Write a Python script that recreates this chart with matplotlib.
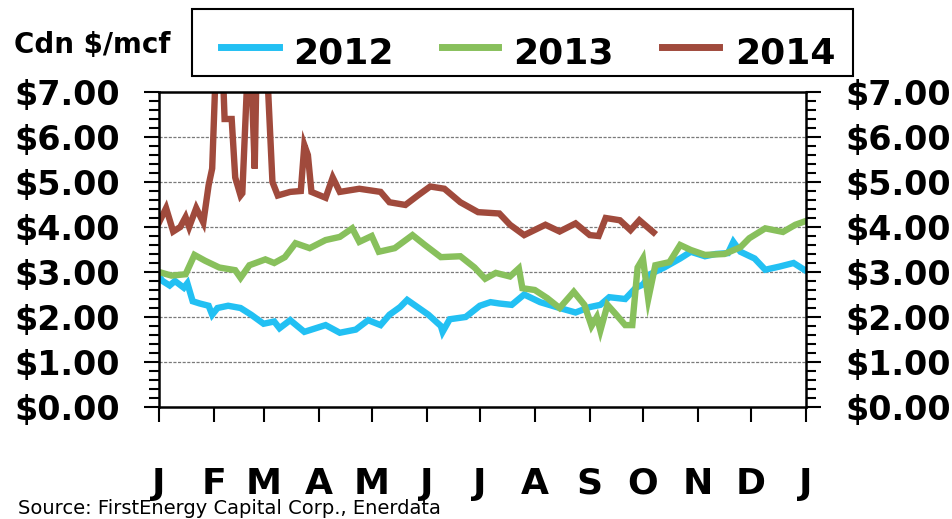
import matplotlib
matplotlib.use("Agg")
import matplotlib.pyplot as plt
from matplotlib.lines import Line2D
from matplotlib.patches import Rectangle

# ---------------- data (day of year, Cdn $/mcf) ----------------
days_2012 = [0, 2, 6, 9, 14, 16, 19, 23, 28, 30, 33, 39, 46, 52, 59, 65, 68, 74, 82, 94,
             102, 111, 118, 125, 130, 136, 140, 144, 152, 159, 160, 164, 173, 181, 187,
             192, 199, 206, 215, 226, 235, 243, 249, 254, 263, 269, 273, 277, 285, 294,
             300, 308, 314, 321, 324, 328, 336, 342, 350, 358, 364]
vals_2012 = [2.90, 2.80, 2.70, 2.80, 2.65, 2.75, 2.35, 2.30, 2.25, 2.05, 2.20, 2.25, 2.20,
             2.05, 1.85, 1.90, 1.75, 1.93, 1.67, 1.82, 1.65, 1.72, 1.93, 1.82, 2.05, 2.22,
             2.38, 2.27, 2.05, 1.80, 1.67, 1.95, 2.00, 2.25, 2.33, 2.30, 2.27, 2.50, 2.33,
             2.20, 2.10, 2.22, 2.27, 2.44, 2.40, 2.65, 2.72, 2.95, 3.10, 3.30, 3.45, 3.35,
             3.40, 3.42, 3.67, 3.45, 3.30, 3.05, 3.12, 3.20, 3.05]

days_2013 = [0, 7, 15, 20, 26, 34, 43, 46, 51, 60, 65, 71, 77, 85, 94, 102, 109, 113, 120,
             124, 133, 143, 150, 159, 170, 178, 184, 190, 198, 203, 205, 212, 219, 226, 234,
             240, 244, 247, 249, 253, 258, 263, 267, 270, 273, 276, 280, 288, 294, 300, 308,
             319, 328, 333, 342, 352, 359, 364]
vals_2013 = [3.00, 2.92, 2.95, 3.38, 3.25, 3.10, 3.04, 2.87, 3.15, 3.28, 3.20, 3.33, 3.64,
             3.53, 3.71, 3.78, 3.97, 3.67, 3.80, 3.45, 3.53, 3.82, 3.60, 3.33, 3.35, 3.10,
             2.85, 2.98, 2.90, 3.08, 2.64, 2.60, 2.42, 2.20, 2.56, 2.27, 1.80, 2.00, 1.70,
             2.27, 2.05, 1.82, 1.82, 3.10, 3.30, 2.40, 3.15, 3.22, 3.60, 3.49, 3.38, 3.40,
             3.55, 3.75, 3.97, 3.89, 4.05, 4.12]

days_2014 = [0, 4, 8, 12, 15, 17, 21, 25, 28, 30, 32, 36, 37, 41, 43, 46, 47, 50, 52, 54,
             55, 61, 64, 67, 74, 80, 82, 84, 86, 94, 98, 102, 113, 125, 130, 139, 146, 153,
             161, 170, 180, 192, 198, 206, 218, 226, 235, 243, 248, 252, 260, 266, 271, 279]
vals_2014 = [4.10, 4.42, 3.90, 4.00, 4.22, 4.00, 4.42, 4.10, 4.93, 5.30, 7.50, 7.50, 6.40,
             6.40, 5.10, 4.70, 4.75, 7.50, 7.50, 5.30, 7.50, 7.50, 5.00, 4.70, 4.78, 4.80,
             5.82, 5.60, 4.78, 4.65, 5.10, 4.78, 4.85, 4.78, 4.55, 4.49, 4.70, 4.90, 4.85,
             4.55, 4.33, 4.30, 4.05, 3.82, 4.05, 3.90, 4.08, 3.82, 3.80, 4.20, 4.15, 3.93,
             4.15, 3.88]

series_names = ["2012", "2013", "2014"]
month_ticks = [0, 31, 59, 90, 120, 151, 181, 212, 243, 273, 304, 334, 365]
month_labels = ["J", "F", "M", "A", "M", "J", "J", "A", "S", "O", "N", "D", "J"]
y_ticks = [0, 1, 2, 3, 4, 5, 6, 7]
y_labels = ["$%.2f" % v for v in y_ticks]

c2012 = "#22C0F3"
c2013 = "#88C05C"
c2014 = "#A04A3C"
colors = [c2012, c2013, c2014]

plt.rcParams["font.family"] = ["DejaVu Sans"]

fig = plt.figure(figsize=(9.52, 5.19), dpi=100)
W, H = 952, 519
ax = fig.add_axes([159 / W, 1 - 407 / H, (806 - 159) / W, (407 - 92) / H])

lw = 4.6
ax.plot(days_2012, vals_2012, color=c2012, lw=lw, solid_joinstyle="miter")
ax.plot(days_2013, vals_2013, color=c2013, lw=lw, solid_joinstyle="miter")
ax.plot(days_2014, vals_2014, color=c2014, lw=lw, solid_joinstyle="miter")

ax.set_xlim(0, 365)
ax.set_ylim(0, 7)

# grid
for y in y_ticks[1:-1]:
    ax.axhline(y, color="#7a7a7a", lw=0.9, ls=(0, (2.5, 1.2)), zorder=0)

for sp in ax.spines.values():
    sp.set_linewidth(1.8)
    sp.set_color("black")

ax.set_xticks(month_ticks)
ax.set_xticklabels(month_labels, fontsize=26, fontweight="bold")
ax.set_yticks(y_ticks)
ax.set_yticklabels(y_labels, fontsize=24, fontweight="bold")
ax.set_yticks([v / 5 for v in range(0, 36)], minor=True)

ax.tick_params(axis="x", which="major", direction="out", length=11, width=1.5, pad=32)
ax.tick_params(axis="y", which="major", direction="out", length=11, width=1.5, pad=17,
               left=True, right=True, labelleft=True, labelright=True)
ax.tick_params(axis="y", which="minor", direction="out", length=7, width=1.5,
               left=True, right=True)

# units label
fig.text(14 / W, 1 - 45 / H, "Cdn $/mcf", fontsize=20, fontweight="bold",
         ha="left", va="center")

# legend (drawn in figure pixel positions)
fig.patches.append(Rectangle((192 / W, 1 - 76 / H), (853 - 192) / W, (76 - 9) / H,
                             transform=fig.transFigure, fill=False, edgecolor="black",
                             linewidth=1.5))
line_x = [(221, 279), (442, 498), (662, 719)]
text_x = [293, 513, 735]
for (x0, x1), tx, col, name in zip(line_x, text_x, colors, series_names):
    fig.lines.append(Line2D([x0 / W, x1 / W], [1 - 47 / H, 1 - 47 / H],
                            transform=fig.transFigure, color=col, lw=5))
    fig.text(tx / W, 1 - 63 / H, name, fontsize=26, fontweight="bold",
             ha="left", va="baseline")

# source
fig.text(18 / W, 1 / H, "Source: FirstEnergy Capital Corp., Enerdata",
         fontsize=14, ha="left", va="bottom")

fig.savefig("out.png", dpi=100)
